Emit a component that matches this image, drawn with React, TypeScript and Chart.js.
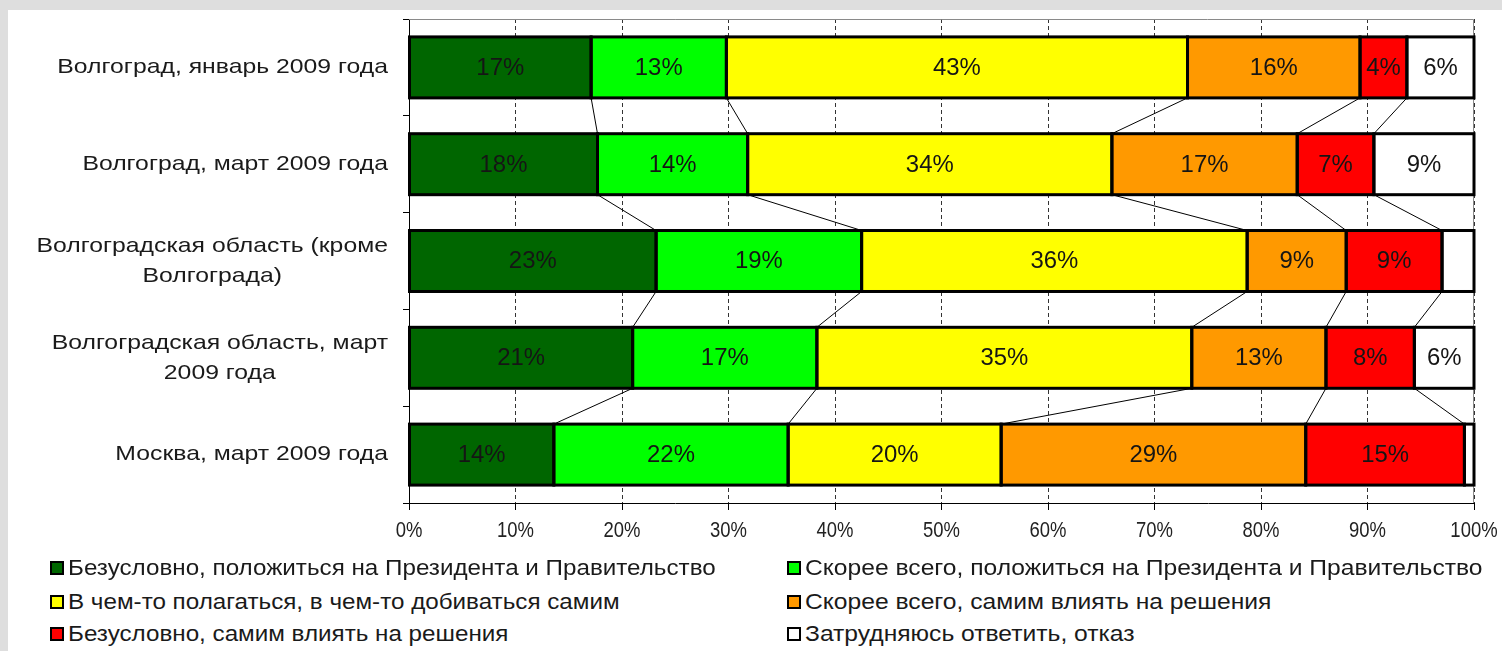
import React, { useEffect, useRef } from "react";
import { Chart, registerables } from "chart.js";

Chart.register(...registerables);

// ---------- data ----------
const categories: string[][] = [
  ["Волгоград, январь 2009 года"],
  ["Волгоград, март 2009 года"],
  ["Волгоградская область (кроме", "Волгограда)"],
  ["Волгоградская область, март", "2009 года"],
  ["Москва, март 2009 года"],
];

const seriesNames = [
  "Безусловно, положиться на Президента и Правительство",
  "Скорее всего, положиться на Президента и Правительство",
  "В чем-то полагаться, в чем-то добиваться самим",
  "Скорее всего, самим влиять на решения",
  "Безусловно, самим влиять на решения",
  "Затрудняюсь ответить, отказ",
];

const seriesColors = ["#006600", "#00ff00", "#ffff00", "#ff9900", "#ff0000", "#ffffff"];

const relyFully = [17.1, 17.7, 23.2, 21.0, 13.6];
const relyMostly = [12.7, 14.1, 19.3, 17.3, 22.0];
const partly = [43.3, 34.2, 36.2, 35.2, 20.0];
const selfMostly = [16.2, 17.4, 9.3, 12.6, 28.6];
const selfFully = [4.4, 7.2, 9.0, 8.3, 14.9];
const noAnswer = [6.3, 9.4, 3.0, 5.6, 0.9];

const seriesValues = [relyFully, relyMostly, partly, selfMostly, selfFully, noAnswer];

const xMin = 0;
const xMax = 100;
const xStep = 10;
const labelMinValue = 4;

// ---------- styling ----------
const SANS = '"Liberation Sans", Arial, sans-serif';

function drawScaledText(ctx: any, text: string, x: number, y: number, sx: number) {
  ctx.save();
  ctx.translate(x, y);
  ctx.scale(sx, 1);
  ctx.fillText(text, 0, 0);
  ctx.restore();
}

const decorPlugin = {
  id: "decor",
  beforeDatasetsDraw(chart: any) {
    const { ctx, chartArea: ca } = chart;
    ctx.save();
    ctx.strokeStyle = "#8a8a8a";
    ctx.lineWidth = 1;
    ctx.beginPath();
    ctx.moveTo(ca.left, ca.top + 0.5);
    ctx.lineTo(ca.right - 0.5, ca.top + 0.5);
    ctx.lineTo(ca.right - 0.5, ca.bottom);
    ctx.stroke();
    ctx.restore();
  },
  afterDatasetsDraw(chart: any) {
    const ctx = chart.ctx;
    const metas = chart.data.datasets.map((_: any, i: number) => chart.getDatasetMeta(i));
    ctx.save();
    // series lines between bars
    ctx.strokeStyle = "#000";
    ctx.lineWidth = 1;
    for (let k = 0; k < metas.length - 1; k++) {
      const els = metas[k].data;
      for (let i = 0; i < els.length - 1; i++) {
        const a = els[i].getProps(["x", "y", "height"], true);
        const b = els[i + 1].getProps(["x", "y", "height"], true);
        ctx.beginPath();
        ctx.moveTo(a.x, a.y + a.height / 2);
        ctx.lineTo(b.x, b.y - b.height / 2);
        ctx.stroke();
      }
    }
    // bar outlines
    ctx.lineWidth = 3;
    metas.forEach((m: any) =>
      m.data.forEach((el: any) => {
        const p = el.getProps(["x", "y", "base", "height"], true);
        const l = Math.min(p.x, p.base);
        const r = Math.max(p.x, p.base);
        ctx.strokeRect(l, p.y - p.height / 2, r - l, p.height);
      })
    );
    // value labels
    ctx.fillStyle = "#151515";
    ctx.font = `23px ${SANS}`;
    ctx.textAlign = "center";
    ctx.textBaseline = "middle";
    metas.forEach((m: any, k: number) =>
      m.data.forEach((el: any, i: number) => {
        const v = seriesValues[k][i];
        if (v < labelMinValue) return;
        const p = el.getProps(["x", "y", "base"], true);
        drawScaledText(ctx, `${Math.round(v)}%`, (p.x + p.base) / 2, p.y + 1, 1.04);
      })
    );
    ctx.restore();
  },
  afterDraw(chart: any) {
    const ctx = chart.ctx;
    const yScale = chart.scales.y;
    const xScale = chart.scales.x;
    ctx.save();
    ctx.fillStyle = "#1a1a1a";
    ctx.textAlign = "center";
    ctx.textBaseline = "middle";
    // category labels
    const right = yScale.right - 21;
    const sx = 1.18;
    const lh = 30;
    ctx.font = `21px ${SANS}`;
    categories.forEach((lines, i) => {
      const yc = yScale.getPixelForValue(i);
      const bw = Math.max(...lines.map((l) => ctx.measureText(l).width * sx));
      const cx = right - bw / 2;
      lines.forEach((l, j) => {
        const yy = yc + (j - (lines.length - 1) / 2) * lh;
        drawScaledText(ctx, l, cx, yy, sx);
      });
    });
    // x tick labels
    ctx.font = `22px ${SANS}`;
    ctx.fillStyle = "#222";
    xScale.ticks.forEach((t: any) => {
      const x = xScale.getPixelForValue(t.value);
      drawScaledText(ctx, `${t.value}%`, x, xScale.top + 28, 0.84);
    });
    ctx.restore();
  },
};

export default function App() {
  const ref = useRef<HTMLCanvasElement | null>(null);

  useEffect(() => {
    if (!ref.current) return;
    const chart = new Chart(ref.current, {
      type: "bar",
      data: {
        labels: categories.map((c) => c.join(" ")),
        datasets: seriesValues.map((vals, k) => ({
          label: seriesNames[k],
          data: vals,
          backgroundColor: seriesColors[k],
          borderWidth: 0,
          barPercentage: 0.63,
          categoryPercentage: 1,
        })),
      },
      options: {
        animation: false,
        responsive: false,
        indexAxis: "y",
        layout: { padding: { left: 0, right: 28, top: 9, bottom: 12 } },
        plugins: {
          legend: { display: false },
          tooltip: { enabled: false },
          title: { display: false },
        },
        scales: {
          x: {
            stacked: true,
            min: xMin,
            max: xMax,
            position: "bottom",
            ticks: {
              stepSize: xStep,
              display: false,
              autoSkip: false,
            },
            grid: {
              color: "#333",
              lineWidth: 1,
              tickLength: 7,
              tickColor: "#000",
              tickBorderDash: [],
            },
            border: { color: "#000", width: 1, dash: [4, 3] },
            afterFit: (s: any) => {
              s.height = 40;
            },
          },
          y: {
            stacked: true,
            ticks: { display: false },
            grid: { drawOnChartArea: false, tickLength: 6, color: "#000", offset: true },
            border: { color: "#000", width: 1 },
            afterFit: (s: any) => {
              s.width = 401;
            },
          },
        },
      },
      plugins: [decorPlugin],
    } as any);
    return () => chart.destroy();
  }, []);

  const legendCols = [50, 787];
  const legendRows = [568, 602, 634];
  const legendScale = [1.1, 1.12];

  return (
    <div style={{ position: "absolute", left: 0, top: 0, width: 1502, height: 651, background: "#dedede", overflow: "hidden" }}>
      <div style={{ position: "absolute", left: 8, top: 10, width: 1494, height: 641, background: "#ffffff" }}>
        <canvas ref={ref} width={1494} height={545} style={{ position: "absolute", left: 0, top: 0, width: 1494, height: 545 }} />
      </div>
      {seriesNames.map((name, i) => {
        const x = legendCols[i % 2];
        const y = legendRows[Math.floor(i / 2)];
        return (
          <div key={name} style={{ position: "absolute", left: x, top: y - 14, height: 28, display: "flex", alignItems: "center", whiteSpace: "nowrap" }}>
            <span style={{ display: "inline-block", width: 10, height: 10, border: "2px solid #000", background: seriesColors[i] }} />
            <span style={{ display: "inline-block", marginLeft: 4, font: `22px ${SANS}`, color: "#1a1a1a", transform: `scaleX(${legendScale[i % 2]})`, transformOrigin: "left center" }}>{name}</span>
          </div>
        );
      })}
    </div>
  );
}
